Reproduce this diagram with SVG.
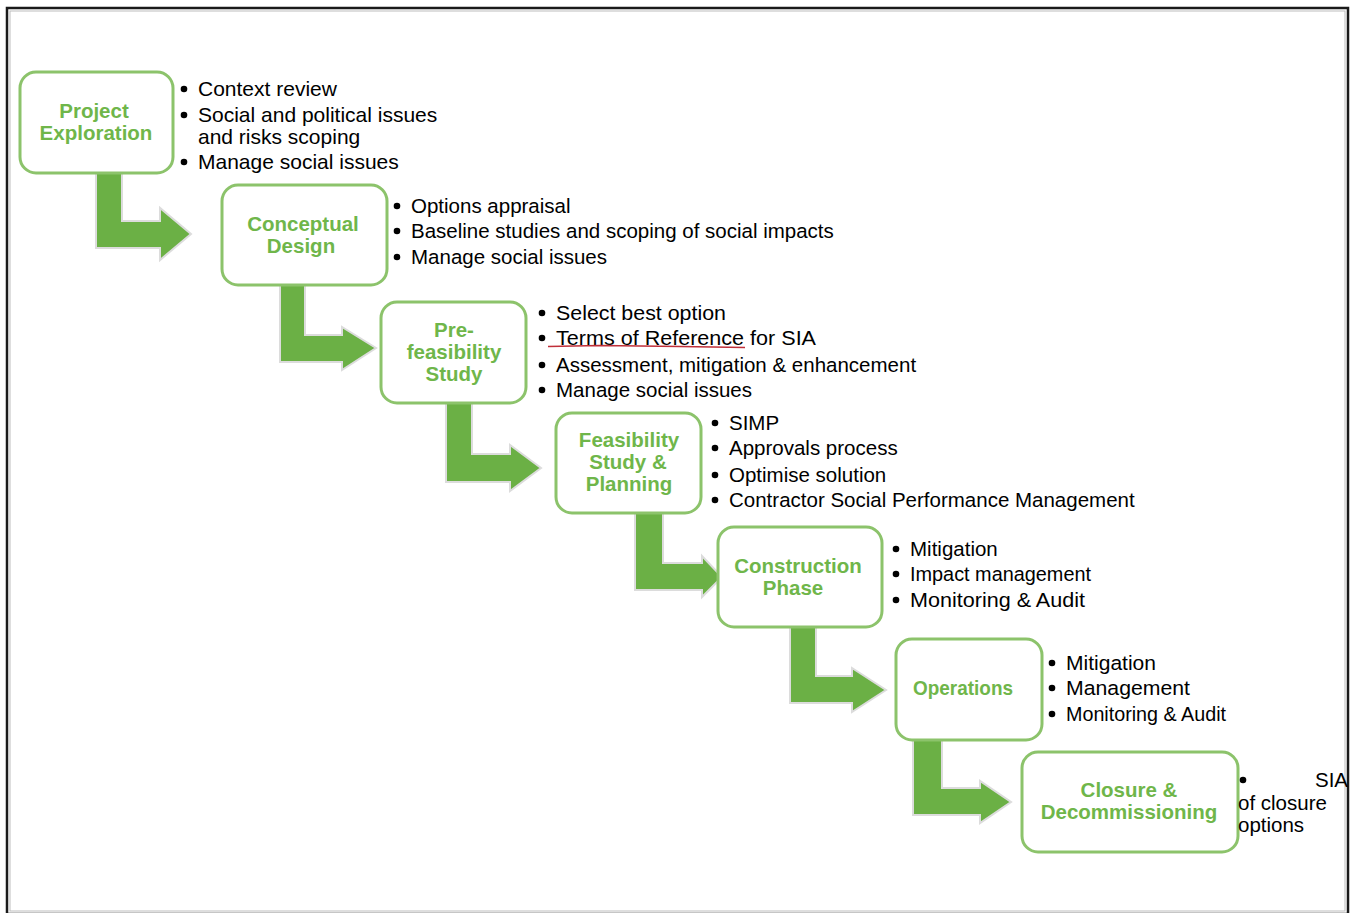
<svg xmlns="http://www.w3.org/2000/svg" width="1352" height="913" viewBox="0 0 1352 913">
<style>
.box{fill:#fff;stroke:#8cc36b;stroke-width:3}
.arr{fill:#6bb045;stroke:#dcdcdc;stroke-width:2;stroke-linejoin:miter}
.t{font-family:"Liberation Sans",Arial,sans-serif;font-weight:bold;font-size:20.5px;fill:#6fb64a;text-anchor:middle}
.b{font-family:"Liberation Sans",Arial,sans-serif;font-size:20.5px;fill:#000}
.b1{font-size:21px}
.d{fill:#000}
</style>
<rect x="0" y="0" width="1352" height="913" fill="#fff"/>
<rect x="7" y="8" width="1341" height="906" fill="none" stroke="#1a1a1a" stroke-width="2.5"/>
<rect x="10" y="11" width="1335" height="900" fill="none" stroke="#bdbdbd" stroke-width="1"/>
<g id="connectors">
<path class="arr" d="M96,172 L122,172 L122,221 L160,221 L160,208 L191,234 L160,260 L160,248 L96,248 Z"/>
<path class="arr" d="M280,285 L305,285 L305,335 L342,335 L342,327 L376,348 L342,370 L342,362 L280,362 Z"/>
<path class="arr" d="M446,403 L472,403 L472,454 L510,454 L510,445 L541,468 L510,491 L510,482 L446,482 Z"/>
<path class="arr" d="M635,513 L663,513 L663,563 L702,563 L702,556 L722,577 L702,597 L702,590 L635,590 Z"/>
<path class="arr" d="M790,627 L816,627 L816,676 L852,676 L852,668 L886,690 L852,712 L852,703 L790,703 Z"/>
<path class="arr" d="M913,740 L942,740 L942,788 L980,788 L980,781 L1011,802 L980,823 L980,815 L913,815 Z"/>
</g>
<g id="n1">
<rect class="box" x="20" y="72" width="153" height="101" rx="16"/>
<text class="t" x="94" y="118">Project</text>
<text class="t" x="96" y="140">Exploration</text>
<circle class="d" cx="184" cy="89" r="3.3"/><circle class="d" cx="184" cy="115" r="3.3"/><circle class="d" cx="184" cy="162" r="3.3"/>
<g class="b b1">
<text x="198" y="96">Context review</text>
<text x="198" y="122">Social and political issues</text>
<text x="198" y="144">and risks scoping</text>
<text x="198" y="169">Manage social issues</text>
</g>
</g>
<g id="n2">
<rect class="box" x="222" y="185" width="165" height="100" rx="16"/>
<text class="t" x="303" y="231">Conceptual</text>
<text class="t" x="301" y="253">Design</text>
<circle class="d" cx="397" cy="206" r="3.3"/><circle class="d" cx="397" cy="231" r="3.3"/><circle class="d" cx="397" cy="257" r="3.3"/>
<g class="b">
<text x="411" y="213">Options appraisal</text>
<text x="411" y="238">Baseline studies and scoping of social impacts</text>
<text x="411" y="264">Manage social issues</text>
</g>
</g>
<g id="n3">
<rect class="box" x="381" y="302" width="145" height="101" rx="16"/>
<text class="t" x="454" y="337">Pre-</text>
<text class="t" x="454" y="359">feasibility</text>
<text class="t" x="454" y="381">Study</text>
<circle class="d" cx="542" cy="313" r="3.3"/><circle class="d" cx="542" cy="338" r="3.3"/><circle class="d" cx="542" cy="365" r="3.3"/><circle class="d" cx="542" cy="390" r="3.3"/>
<g class="b">
<text x="556" y="320" textLength="170" lengthAdjust="spacingAndGlyphs">Select best option</text>
<text x="556" y="345" textLength="260" lengthAdjust="spacingAndGlyphs">Terms of Reference for SIA</text>
<text x="556" y="372">Assessment, mitigation &amp; enhancement</text>
<text x="556" y="397">Manage social issues</text>
</g>
<path d="M548,346.5 L600,345.5 L680,346.5 L745,347.5" fill="none" stroke="#c0303a" stroke-width="1.5"/>
</g>
<g id="n4">
<rect class="box" x="556" y="413" width="145" height="100" rx="16"/>
<text class="t" x="629" y="447">Feasibility</text>
<text class="t" x="628" y="469">Study &amp;</text>
<text class="t" x="629" y="491">Planning</text>
<circle class="d" cx="715" cy="423" r="3.3"/><circle class="d" cx="715" cy="448" r="3.3"/><circle class="d" cx="715" cy="475" r="3.3"/><circle class="d" cx="715" cy="500" r="3.3"/>
<g class="b">
<text x="729" y="430">SIMP</text>
<text x="729" y="455">Approvals process</text>
<text x="729" y="482">Optimise solution</text>
<text x="729" y="507">Contractor Social Performance Management</text>
</g>
</g>
<g id="n5">
<rect class="box" x="718" y="527" width="164" height="100" rx="16"/>
<text class="t" x="798" y="573">Construction</text>
<text class="t" x="793" y="595">Phase</text>
<circle class="d" cx="896" cy="549" r="3.3"/><circle class="d" cx="896" cy="574" r="3.3"/><circle class="d" cx="896" cy="600" r="3.3"/>
<g class="b">
<text x="910" y="556">Mitigation</text>
<text x="910" y="581" textLength="181" lengthAdjust="spacingAndGlyphs">Impact management</text>
<text x="910" y="607" textLength="175" lengthAdjust="spacingAndGlyphs">Monitoring &amp; Audit</text>
</g>
</g>
<g id="n6">
<rect class="box" x="896" y="639" width="146" height="101" rx="16"/>
<text class="t" x="963" y="695" textLength="100" lengthAdjust="spacingAndGlyphs">Operations</text>
<circle class="d" cx="1052" cy="663" r="3.3"/><circle class="d" cx="1052" cy="688" r="3.3"/><circle class="d" cx="1052" cy="714" r="3.3"/>
<g class="b">
<text x="1066" y="670" textLength="90" lengthAdjust="spacingAndGlyphs">Mitigation</text>
<text x="1066" y="695" textLength="124" lengthAdjust="spacingAndGlyphs">Management</text>
<text x="1066" y="721" textLength="160" lengthAdjust="spacingAndGlyphs">Monitoring &amp; Audit</text>
</g>
</g>
<g id="n7">
<rect class="box" x="1022" y="752" width="216" height="100" rx="16"/>
<text class="t" x="1129" y="797">Closure &amp;</text>
<text class="t" x="1129" y="819">Decommissioning</text>
<circle class="d" cx="1243" cy="780" r="3.3"/>
<g class="b">
<text x="1348" y="787" text-anchor="end">SIA</text>
<text x="1238" y="810">of closure</text>
<text x="1238" y="832">options</text>
</g>
</g>
</svg>
